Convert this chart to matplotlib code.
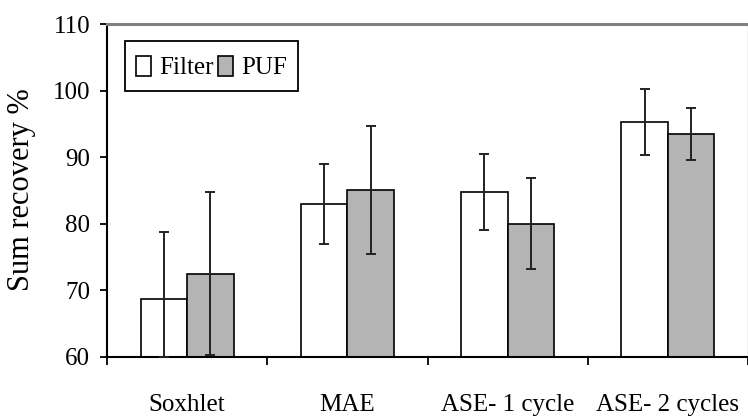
import matplotlib
matplotlib.use("Agg")
import matplotlib.pyplot as plt
import numpy as np
from matplotlib.patches import Patch, Rectangle
from matplotlib.legend_handler import HandlerPatch

categories = ["Soxhlet", "MAE", "ASE- 1 cycle", "ASE- 2 cycles"]
filter_vals = [68.6, 83.0, 84.8, 95.3]
filter_err = [10.1, 6.0, 5.7, 5.0]
puf_vals = [72.5, 85.1, 80.0, 93.5]
puf_err = [12.3, 9.6, 6.85, 3.9]

plt.rcParams['font.family'] = ['Liberation Serif', 'DejaVu Serif']

fig = plt.figure(figsize=(7.48, 4.19), dpi=100)
ax = fig.add_axes([107/748, 1-356.7/419, (748-107)/748, (356.7-24)/419])

x = np.arange(len(categories))
w = 0.29
puf_color = "#b4b4b4"
ekw = dict(ecolor="#222222", elinewidth=1.4, capsize=3.3, capthick=1.4)

ax.bar(x - w/2, filter_vals, w, color="white", edgecolor="black", linewidth=1.2, zorder=2)
ax.bar(x + w/2, puf_vals, w, color=puf_color, edgecolor="black", linewidth=1.2, zorder=2)
# error bars, lower ends clipped at axis minimum
f_lo = [min(e, v - 60) for v, e in zip(filter_vals, filter_err)]
p_lo = [min(e, v - 60.2) for v, e in zip(puf_vals, puf_err)]
ax.errorbar(x - w/2, filter_vals, yerr=[f_lo, filter_err], fmt="none", zorder=3, **ekw)
ax.errorbar(x + w/2, puf_vals, yerr=[p_lo, puf_err], fmt="none", zorder=3, **ekw)

ax.set_ylim(60, 110)
ax.set_xlim(-0.5, 3.5)
ax.set_yticks([60, 70, 80, 90, 100, 110])
ax.tick_params(axis='y', direction='out', length=5, width=1.3, labelsize=18, pad=7)
ax.set_xticks(x)
ax.set_xticklabels(categories, fontsize=18)
ax.tick_params(axis='x', which='major', length=0, pad=27)
ax.set_xticks([-0.5, 0.5, 1.5, 2.5, 3.5], minor=True)
ax.tick_params(axis='x', which='minor', direction='out', length=6, width=1.3)

ax.set_ylabel("Sum recovery %", fontsize=22)
ax.yaxis.set_label_coords(22/748, 1-190/419, transform=fig.transFigure)
ax.yaxis.label.set_va('center')

for s in ['left', 'bottom']:
    ax.spines[s].set_color('black')
    ax.spines[s].set_linewidth(1.5)
ax.spines['top'].set_color('#808080')
ax.spines['top'].set_linewidth(2.2)
ax.spines['right'].set_color('#c8c8c8')
ax.spines['right'].set_linewidth(1.0)


def small_rect(legend, orig_handle, xdescent, ydescent, width, height, fontsize):
    h = 14.0
    return Rectangle((-xdescent, -ydescent + (height - h) / 2), width, h)


handles = [Patch(facecolor='white', edgecolor='black', linewidth=1.2),
           Patch(facecolor=puf_color, edgecolor='black', linewidth=1.2)]
leg = ax.legend(handles, ["Filter", "PUF"], ncol=2, loc='upper left',
                fontsize=18, handlelength=0.6, handleheight=1.3, handletextpad=0.3,
                columnspacing=0.2, borderpad=0.45, fancybox=False, framealpha=1,
                edgecolor='black', borderaxespad=0,
                handler_map={Patch: HandlerPatch(patch_func=small_rect)})
leg.set_bbox_to_anchor((125/748, 1-41/419), transform=fig.transFigure)
leg.get_frame().set_linewidth(1.3)

fig.savefig("out.png", dpi=100)
